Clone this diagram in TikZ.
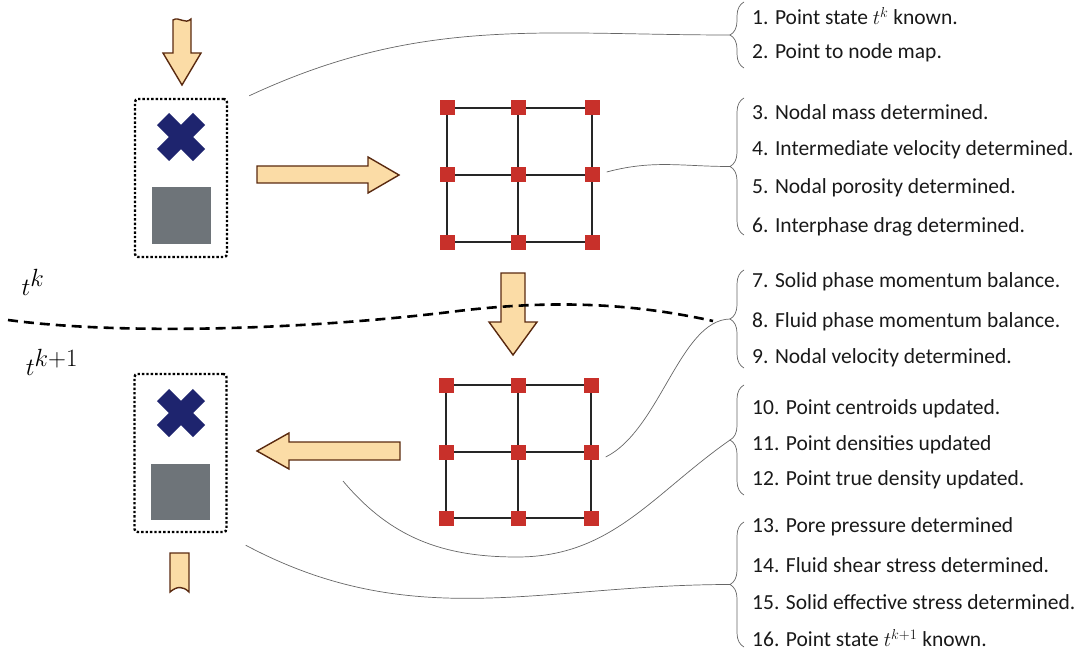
\documentclass[tikz,border=0pt]{standalone}
\usepackage{fontspec}
\setmainfont{Carlito}
\usepackage{tikz}
\usetikzlibrary{positioning,decorations.pathreplacing,backgrounds}

\definecolor{crossblue}{HTML}{1E246E}
\definecolor{ptgrey}{HTML}{6E7479}
\definecolor{nodered}{HTML}{C8302A}
\definecolor{arrowfill}{HTML}{FBDCA6}
\definecolor{arrowline}{HTML}{5A2A10}

\begin{document}
\begin{tikzpicture}[x=1pt, y=-1pt,
    points/.style={draw, line width=2.4pt, dash pattern=on 2.4pt off 2pt, rounded corners=3pt, minimum width=92pt, minimum height=158pt},
    gridnode/.style={fill=nodered, minimum size=15pt, inner sep=0pt},
    gridline/.style={line width=1.8pt, black!85},
    flow/.style={fill=arrowfill, draw=arrowline, line width=1.4pt, line join=miter},
    link/.style={gray!80!black, line width=0.7pt},
    brace/.style={decorate, decoration={brace, amplitude=14pt}, gray!80!black, line width=0.7pt},
    step text/.style={anchor=west, font=\fontsize{21.5}{26}\selectfont, text=black!90, inner sep=0pt},
    time/.style={font=\fontsize{36}{42}\selectfont}]

\useasboundingbox (0,0) rectangle (1086,655);

% material points, before and after
\node[points] (ptsA) at (181,178) {};
\node[points] (ptsB) at (180.5,453) {};
\foreach \p/\c in {ptsA/137, ptsB/413} {
    \draw[crossblue, line width=17pt] (181,\c) +(-18,-18) -- +(18,18);
    \draw[crossblue, line width=17pt] (181,\c) +(-18,18) -- +(18,-18);
}
\fill[ptgrey] (152,187) rectangle (211,244);
\fill[ptgrey] (151,464) rectangle (210,520);

% background mesh
\foreach \g/\ya/\yb/\yc/\xa/\xb/\xc in {gA/108/175/242/447/518/592, gB/385/452/518/446/518/591} {
    \foreach \i/\x in {1/\xa, 2/\xb, 3/\xc}
        \foreach \j/\y in {1/\ya, 2/\yb, 3/\yc}
            \node[gridnode] (\g-\i-\j) at (\x,\y) {};
    \begin{pgfonlayer}{background}
        \foreach \k in {1,2,3} {
            \draw[gridline] (\g-1-\k.center) -- (\g-3-\k.center);
            \draw[gridline] (\g-\k-1.center) -- (\g-\k-3.center);
        }
    \end{pgfonlayer}
}

% process arrows
\draw[flow] (173,53) -- (173,20) .. controls (179,16) and (185,25) .. (191,19) -- (191,53)
    -- (201,53) -- (182,85) -- (163,53) -- cycle;
\draw[flow] (257,166) -- (368,166) -- (368,157) -- (399,175) -- (368,193) -- (368,183) -- (257,183) -- cycle;
\draw[flow] (501,273) -- (525,273) -- (525,322) -- (537,322) -- (513,355) -- (489,322) -- (501,322) -- cycle;
\draw[flow] (400,442) -- (289,442) -- (289,433) -- (257,451) -- (289,469) -- (289,460) -- (400,460) -- cycle;
\draw[flow] (170,553) -- (189,553) -- (189,592) .. controls (183,586) and (177,586) .. (170,592) -- cycle;

% time levels
\node[time] (tk) at (33,282) {$t^{k}$};
\node[time] (tk1) at (52,362) {$t^{k+1}$};

% steps
\draw[brace] (744,68) -- (744,2);
\draw[brace] (744,235) -- (744,98);
\draw[brace] (744,368) -- (744,270);
\draw[brace] (744,495) -- (744,385);
\draw[brace] (744,647) -- (744,522);
\coordinate (b1) at (730,35);
\coordinate (b2) at (730,166.5);
\coordinate (b3) at (730,319);
\coordinate (b4) at (730,440);
\coordinate (b5) at (730,584.5);

\foreach \n/\y/\t in {
    s1/16/{1. Point state $t^{k}$ known.},
    s2/53/{2. Point to node map.},
    s3/112/{3. Nodal mass determined.},
    s4/150/{4. Intermediate velocity determined.},
    s5/188/{5. Nodal porosity determined.},
    s6/227/{6. Interphase drag determined.},
    s7/282/{7. Solid phase momentum balance.},
    s8/322/{8. Fluid phase momentum balance.},
    s9/358/{9. Nodal velocity determined.},
    s10/409/{10. Point centroids updated.},
    s11/445/{11. Point densities updated},
    s12/480/{12. Point true density updated.},
    s13/527/{13. Pore pressure determined},
    s14/565/{14. Fluid shear stress determined.},
    s15/602/{15. Solid effective stress determined.},
    s16/638/{16. Point state $t^{k+1}$ known.}}
    \node[step text] (\n) at (752,\y) {\t};

% links to the steps
\coordinate (c4) at (343,481);
\draw[link] ([xshift=21pt,yshift=2pt]ptsA.north east) to[out=25,in=180] (b1);
\draw[link] ([xshift=7pt,yshift=3pt]gA-3-2.east) to[out=15,in=180] (b2);
\draw[link] ([xshift=7pt,yshift=-5pt]gB-3-2.east) .. controls (660,430) and (680,320) .. (b3);
\draw[link] (c4) to[out=-50,in=180] (517,557) to[out=0,in=215] (b4);
\draw[link] ([xshift=18pt,yshift=-12pt]ptsB.south east) to[out=-28,in=180] (b5);
\draw[line width=2.6pt, dash pattern=on 10pt off 6pt] (8,320) .. controls (120,335) and (300,330) .. (450,312)
    .. controls (560,298) and (640,305) .. ([xshift=-17pt,yshift=-2pt]b3);
\end{tikzpicture}
\end{document}
